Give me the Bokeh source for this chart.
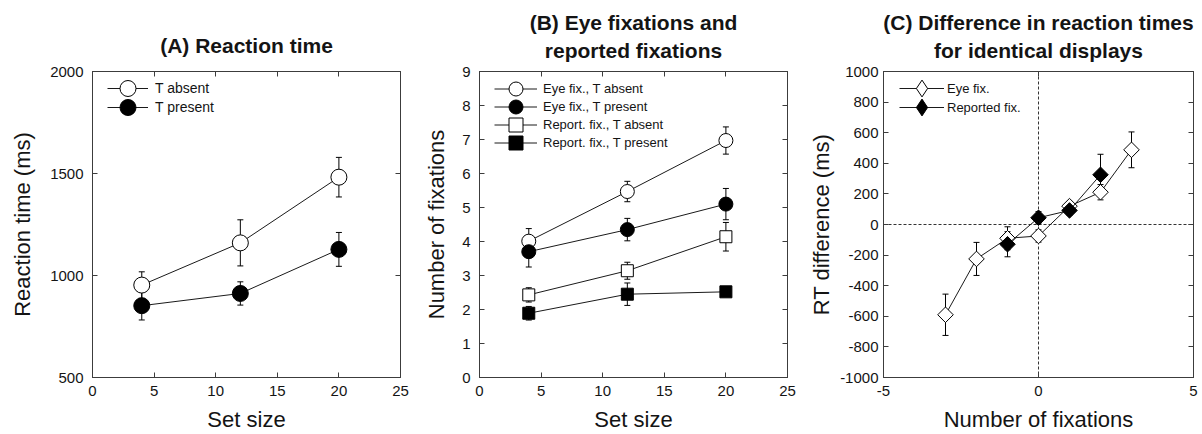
import math
from bokeh.plotting import figure
from bokeh.models import (ColumnDataSource, Whisker, TeeHead, LinearAxis, Range1d, Span,
                          Legend, LegendItem, CustomJSTickFormatter, FixedTicker, Title)
from bokeh.layouts import row
from bokeh.embed import file_html
from bokeh.resources import INLINE

# ---------------- data ----------------
# Panel A: reaction time vs set size
set_size = [4, 12, 20]
rt_absent = [953, 1160, 1482]
rt_absent_err = [65, 113, 97]
rt_present = [852, 912, 1128]
rt_present_err = [70, 57, 83]

# Panel B: number of fixations vs set size
eye_absent = [4.01, 5.47, 6.97]
eye_absent_err = [0.37, 0.30, 0.40]
eye_present = [3.70, 4.35, 5.10]
eye_present_err = [0.45, 0.33, 0.46]
rep_absent = [2.43, 3.14, 4.14]
rep_absent_err = [0.21, 0.25, 0.42]
rep_present = [1.89, 2.45, 2.52]
rep_present_err = [0.20, 0.33, 0.05]

# Panel C: RT difference vs number of fixations
fix_eye = [-3, -2, -1, 0, 1, 2, 3]
diff_eye = [-590, -225, -90, -75, 120, 211, 488]
diff_eye_err = [135, 108, 75, 40, 30, 50, 117]
fix_rep = [-1, 0, 1, 2]
diff_rep = [-129, 44, 92, 325]
diff_rep_err = [82, 40, 30, 134]

# tick values
xticks_ab = [0, 5, 10, 15, 20, 25]
yticks_a = [500, 1000, 1500, 2000]
yticks_b = list(range(0, 10))
xticks_c = [-5, 0, 5]
yticks_c = list(range(-1000, 1001, 200))

FONT = "Liberation Sans"
AX = "#3c3c3c"
TXT = "#141414"
H = 434
TOP = 71
BOTTOM = 55


def style_axis(ax, ticks, labels=True, standoff=8):
    ax.ticker = FixedTicker(ticks=ticks)
    ax.major_tick_in = 5
    ax.major_tick_out = 0
    ax.minor_tick_in = 0
    ax.minor_tick_out = 0
    ax.axis_line_color = AX
    ax.major_tick_line_color = AX
    ax.major_label_text_font = FONT
    ax.major_label_text_font_size = "15px"
    ax.major_label_text_color = TXT
    ax.major_label_standoff = standoff
    ax.axis_label_text_font = FONT
    ax.axis_label_text_font_size = "22px"
    ax.axis_label_text_font_style = "normal"
    ax.axis_label_text_color = TXT
    if labels:
        ax.major_label_overrides = {t: str(t) for t in ticks}
    else:
        ax.formatter = CustomJSTickFormatter(code="return ''")
        ax.major_label_standoff = 0


def style_title(t, txt, so):
    t.text = txt
    t.align = "center"
    t.text_font = FONT
    t.text_font_size = "21px"
    t.text_font_style = "bold"
    t.text_color = TXT
    t.standoff = so


def make_fig(width, bl, br, xr, yr, xt, yt, titles, xlabel, ylabel, ystand, ylstand):
    p = figure(width=width, height=H, x_range=Range1d(*xr), y_range=Range1d(*yr),
               output_backend="svg", toolbar_location=None,
               min_border_left=bl, min_border_right=br, min_border_top=TOP,
               min_border_bottom=BOTTOM)
    p.grid.visible = False
    p.outline_line_color = AX
    p.background_fill_color = "white"
    p.border_fill_color = "white"
    style_axis(p.xaxis[0], xt, standoff=8)
    style_axis(p.yaxis[0], yt, standoff=ystand)
    p.xaxis[0].axis_label = xlabel
    p.yaxis[0].axis_label = ylabel
    p.xaxis[0].axis_label_standoff = 8
    p.yaxis[0].axis_label_standoff = ylstand
    top = LinearAxis()
    style_axis(top, xt, labels=False)
    p.add_layout(top, "above")
    right = LinearAxis()
    style_axis(right, yt, labels=False)
    p.add_layout(right, "right")
    # titles: list of (text, standoff), innermost first, outermost last (= figure title)
    for i, (txt, so) in enumerate(titles):
        if i == len(titles) - 1:
            style_title(p.title, txt, so)
        else:
            t = Title()
            style_title(t, txt, so)
            p.add_layout(t, "above")
    return p


def series(p, x, y, err, marker, fill, size, angle=0.0, legend_marker=None, legend_size=None):
    src = ColumnDataSource(dict(x=x, y=y, lo=[a - b for a, b in zip(y, err)],
                                hi=[a + b for a, b in zip(y, err)]))
    w = Whisker(base="x", upper="hi", lower="lo", source=src, dimension="height",
                line_color="black", line_width=1, level="underlay",
                upper_head=TeeHead(size=6, line_color="black", line_width=1),
                lower_head=TeeHead(size=6, line_color="black", line_width=1))
    p.add_layout(w)
    ln = p.line("x", "y", source=src, line_color="#1a1a1a", line_width=1)
    sc = p.scatter("x", "y", source=src, marker=marker, size=size, fill_color=fill,
                   line_color="black", line_width=1, angle=angle)
    if legend_marker is None:
        return ln, sc
    # legend-only glyph: mapped onto a far-away range so it is clipped out of the frame
    if "legend_only" not in p.extra_y_ranges:
        p.extra_y_ranges = {"legend_only": Range1d(1e9, 2e9)}
    lg = p.scatter("x", "y", source=src, y_range_name="legend_only",
                   marker=legend_marker, size=legend_size, fill_color=fill,
                   line_color="black", line_width=1)
    return ln, lg


def add_legend_rows(p, items, x, ys, gw, gh, stand, fsize):
    for (lab, r), y in zip(items, ys):
        lg = Legend(items=[LegendItem(label=lab, renderers=list(r))],
                    location=(x, y), glyph_width=gw, glyph_height=gh, spacing=0,
                    padding=0, margin=0, label_standoff=stand, label_height=gh,
                    background_fill_alpha=0, border_line_alpha=0,
                    label_text_font=FONT, label_text_font_size=fsize,
                    label_text_color=TXT)
        p.add_layout(lg)


# ---------------- Panel A ----------------
pa = make_fig(418, 92, 18, (0, 25), (500, 2000), xticks_ab, yticks_a,
              [("(A) Reaction time", 30)], "Set size", "Reaction time (ms)", 9, 12)
a1 = series(pa, set_size, rt_absent, rt_absent_err, "circle", "white", 16)
a2 = series(pa, set_size, rt_present, rt_present_err, "circle", "black", 16)
add_legend_rows(pa, [("T absent", a1), ("T present", a2)], 15, [269, 250], 41, 40, 7, "14px")

# ---------------- Panel B ----------------
pb = make_fig(388, 61, 19, (0, 25), (0, 9), xticks_ab, yticks_b,
              [("reported fixations", 19), ("(B) Eye fixations and", -13)],
              "Set size", "Number of fixations", 9, 10)
b1 = series(pb, set_size, eye_absent, eye_absent_err, "circle", "white", 14)
b2 = series(pb, set_size, eye_present, eye_present_err, "circle", "black", 14)
b3 = series(pb, set_size, rep_absent, rep_absent_err, "square", "white", 12)
b4 = series(pb, set_size, rep_present, rep_present_err, "square", "black", 12)
add_legend_rows(pb, [("Eye fix., T absent", b1), ("Eye fix., T present", b2),
                     ("Report. fix., T absent", b3), ("Report. fix., T present", b4)],
                15, [271, 253, 235, 217], 43, 35, 6, "13px")

# ---------------- Panel C ----------------
pc = make_fig(396, 77, 9, (-5, 5), (-1000, 1000), xticks_c, yticks_c,
              [("for identical displays", 19), ("(C) Difference in reaction times", -13)],
              "Number of fixations", "RT difference (ms)", 5, 3)
pc.add_layout(Span(location=0, dimension="width", line_color="#333333", line_width=1,
                   line_dash="3 2", level="underlay"))
pc.add_layout(Span(location=0, dimension="height", line_color="#333333", line_width=1,
                   line_dash="3 2", level="underlay"))
c1 = series(pc, fix_eye, diff_eye, diff_eye_err, "square", "white", 11, math.pi / 4,
            legend_marker="diamond", legend_size=17)
c2 = series(pc, fix_rep, diff_rep, diff_rep_err, "square", "black", 11, math.pi / 4,
            legend_marker="diamond", legend_size=17)
add_legend_rows(pc, [("Eye fix.", c1), ("Reported fix.", c2)], 16, [268, 249], 45, 42, 3, "13px")

layout = row(pa, pb, pc, spacing=0)
open("out.html", "w").write(file_html(layout, INLINE))
